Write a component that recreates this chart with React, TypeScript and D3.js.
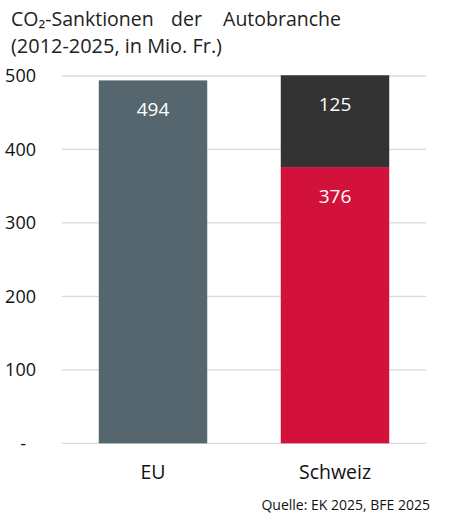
import * as d3 from "d3";

// values (Mio. Fr.)
const categories = ["EU", "Schweiz"];
const baseValues = [494, 376];
const topValues = [0, 125];
const yTicks = [0, 100, 200, 300, 400, 500];
const titleWords = ["CO₂-Sanktionen", "der", "Autobranche"];
const subtitle = "(2012-2025, in Mio. Fr.)";
const source = "Quelle: EK 2025, BFE 2025";

const W = 462;
const H = 520;
const font = "'Open Sans', 'Noto Sans', sans-serif";

const colors = { base: ["#56666e", "#d2123b"], top: "#333333", grid: "#d9d9d9" };

export default function App() {
  const x = d3.scaleBand().domain(categories).range([62, 426]).paddingInner(0.404).paddingOuter(0.202);
  const y = d3.scaleLinear().domain([0, 500]).range([443.3, 76]);

  const rows = categories.map((c, i) => ({ cat: c, base: baseValues[i], top: topValues[i] }));
  const stacked = d3.stack<any>().keys(["base", "top"])(rows);

  return (
    <svg width={W} height={H} style={{ position: "absolute", left: 0, top: 0, background: "#fff" }} fontFamily={font}>
      {/* title, justified like the original */}
      <text x={11} y={26} fontSize={19.5} fill="#222">{titleWords[0]}</text>
      <text x={171} y={26} fontSize={19.5} fill="#222">{titleWords[1]}</text>
      <text x={341} y={26} fontSize={19.5} fill="#222" textAnchor="end">{titleWords[2]}</text>
      <text x={11} y={53} fontSize={20} fill="#222" textLength={211} lengthAdjust="spacingAndGlyphs">{subtitle}</text>

      {/* gridlines + y labels */}
      {yTicks.map((t) => (
        <g key={t}>
          <line x1={62} x2={426} y1={y(t)} y2={y(t)} stroke={colors.grid} strokeWidth={1.3} />
          <text x={t === 0 ? 26 : 36} y={y(t)} dy="0.36em" fontSize={18} textAnchor="end" fill="#111">
            {t === 0 ? "-" : t}
          </text>
        </g>
      ))}

      {/* bars */}
      {stacked.map((layer) =>
        layer.map((d, i) => {
          if (d[1] - d[0] <= 0) return null;
          const fill = layer.key === "base" ? colors.base[i] : colors.top;
          const val = d[1] - d[0];
          return (
            <g key={layer.key + i}>
              <rect x={x(categories[i])} y={y(d[1])} width={x.bandwidth()} height={y(d[0]) - y(d[1])} fill={fill} />
              <text
                x={x(categories[i])! + x.bandwidth() / 2}
                y={y(d[1]) + 29}
                dy="0.36em"
                textAnchor="middle"
                fontSize={19}
                fill="#fff"
              >
                {val}
              </text>
            </g>
          );
        })
      )}

      {/* category labels */}
      {categories.map((c) => (
        <text key={c} x={x(c)! + x.bandwidth() / 2} y={479} textAnchor="middle" fontSize={19.5} fill="#111">
          {c}
        </text>
      ))}

      <text x={430} y={510} textAnchor="end" fontSize={14} fill="#111">{source}</text>
    </svg>
  );
}
